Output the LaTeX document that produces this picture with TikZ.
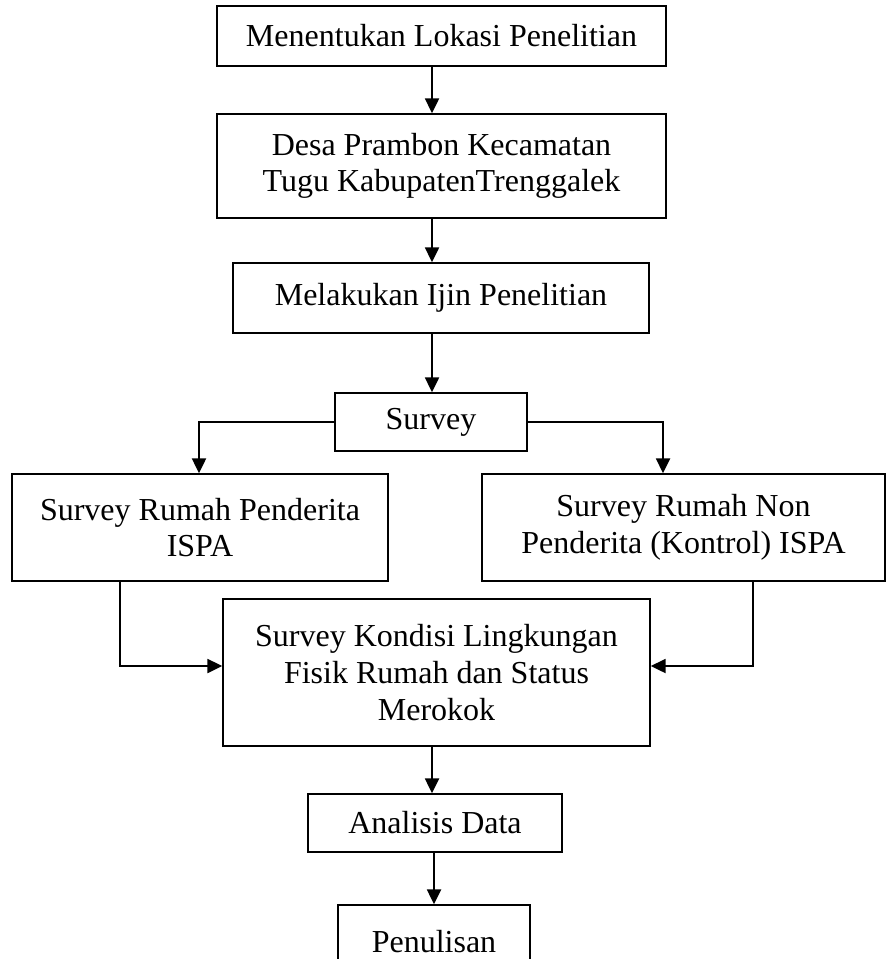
\documentclass[tikz,border=0pt]{standalone}
\usepackage{fontspec}
\setmainfont{Liberation Serif}
\usetikzlibrary{arrows.meta}
\begin{document}
\begin{tikzpicture}[x=0.75pt,y=-0.75pt,
  box/.style={draw=black, line width=1.3pt, inner sep=0pt, align=center,
    font=\fontsize{24}{27.5}\selectfont},
  arr/.style={line width=1.4pt, -{Triangle[length=11pt,width=10.5pt]}},
  ln/.style={line width=1.4pt}]
\useasboundingbox (0,0) rectangle (886,959);
\node[box, minimum width=449*0.75pt, minimum height=60*0.75pt] (b1) at (441.5,36) {Menentukan Lokasi Penelitian};
\node[box, minimum width=449*0.75pt, minimum height=104*0.75pt] (b2) at (441.5,166) {Desa Prambon Kecamatan\\Tugu KabupatenTrenggalek};
\node[box, minimum width=416*0.75pt, minimum height=70*0.75pt] (b3) at (441,298) {Melakukan Ijin Penelitian};
\node[box, minimum width=192*0.75pt, minimum height=58*0.75pt] (sv) at (431,422) {Survey};
\node[box, minimum width=376*0.75pt, minimum height=107*0.75pt] (lb) at (200,527.5) {Survey Rumah Penderita\\ISPA};
\node[box, minimum width=403*0.75pt, minimum height=107*0.75pt] (rb) at (683.5,527.5) {Survey Rumah Non\\Penderita (Kontrol) ISPA};
\node[box, minimum width=427*0.75pt, minimum height=147*0.75pt] (cb) at (436.5,672.5) {Survey Kondisi Lingkungan\\Fisik Rumah dan Status\\Merokok};
\node[box, minimum width=254*0.75pt, minimum height=58*0.75pt] (ad) at (435,823) {Analisis Data};
\node[box, minimum width=192*0.75pt, minimum height=74*0.75pt] (pn) at (434,942) {Penulisan};
\coordinate (ax) at (432,0);
\coordinate (ax2) at (434,0);
\coordinate (lx) at (199,0);
\coordinate (rx) at (663,0);
\coordinate (lbx) at (120,0);
\coordinate (rbx) at (753,0);
\coordinate (my) at (0,666);
\draw[arr] (b1.south -| ax) -- (b2.north -| ax);
\draw[arr] (b2.south -| ax) -- (b3.north -| ax);
\draw[arr] (b3.south -| ax) -- (sv.north -| ax);
\draw[arr] (sv.west) -| (lb.north -| lx);
\draw[arr] (sv.east) -| (rb.north -| rx);
\draw[arr] (lb.south -| lbx) |- (cb.west |- my);
\draw[arr] (rb.south -| rbx) |- (cb.east |- my);
\draw[arr] (cb.south -| ax) -- (ad.north -| ax);
\draw[arr] (ad.south -| ax2) -- (pn.north -| ax2);
\end{tikzpicture}
\end{document}
